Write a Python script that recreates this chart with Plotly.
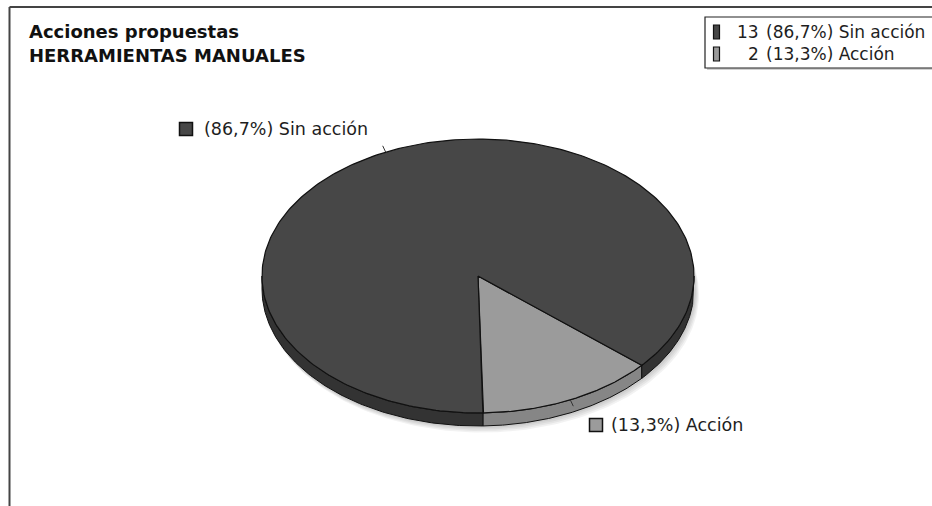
import numpy as np
import plotly.graph_objects as go

# Chart data
title_lines = ["Acciones propuestas", "HERRAMIENTAS MANUALES"]
categories = ["Acción", "Sin acción"]
counts = [2, 13]
slice_colors = ["#9b9b9b", "#474747"]
rim_colors = ["#868686", "#333333"]

# Pie geometry (pixel units on hidden axes)
CX, CY = 478, 276
RX, RY = 216, 137
DEPTH = 13
START_DEG = -88.7  # first slice starts just right of straight down, goes counter-clockwise

FONT = "DejaVu Sans"
total = sum(counts)
pcts = [c / total * 100 for c in counts]


def fmt_pct(p):
    return f"{p:.1f}".replace(".", ",") + "%"


def ell(t_deg, dy=0.0, dx=0.0, rx=RX, ry=RY):
    t = np.radians(t_deg)
    return CX + dx + rx * np.cos(t), CY + dy - ry * np.sin(t)


fig = go.Figure()

# soft drop shadow under the disc
for k, a in enumerate([0.05, 0.05, 0.05, 0.05]):
    tt = np.linspace(0, 360, 240)
    sx, sy = ell(tt, dy=DEPTH + 1 + k * 1.5, dx=1 + k, rx=RX + 1, ry=RY + 1)
    fig.add_trace(go.Scatter(x=sx, y=sy, mode="lines", fill="toself",
                             fillcolor=f"rgba(0,0,0,{a})", line=dict(width=0),
                             hoverinfo="skip", showlegend=False))

# slice angle ranges
ranges = []
a0 = START_DEG
for c in counts:
    a1 = a0 + 360 * c / total
    ranges.append((a0, a1))
    a0 = a1

# visible side wall (front half of the disc)
front = [(-180, 0), (180, 360)]
for (a, b), rc in zip(ranges, rim_colors):
    for f0, f1 in front:
        lo, hi = max(a, f0), min(b, f1)
        if hi <= lo:
            continue
        tt = np.linspace(lo, hi, 120)
        tx, ty = ell(tt)
        bx, by = ell(tt[::-1], dy=DEPTH)
        fig.add_trace(go.Scatter(x=np.r_[tx, bx, tx[:1]], y=np.r_[ty, by, ty[:1]],
                                 mode="lines", fill="toself", fillcolor=rc,
                                 line=dict(color="#111111", width=1),
                                 hoverinfo="skip", showlegend=False))

# top faces
for (a, b), sc in zip(ranges, slice_colors):
    tt = np.linspace(a, b, 300)
    ex, ey = ell(tt)
    fig.add_trace(go.Scatter(x=np.r_[CX, ex, CX], y=np.r_[CY, ey, CY],
                             mode="lines", fill="toself", fillcolor=sc,
                             line=dict(color="#111111", width=1.2),
                             hoverinfo="skip", showlegend=False))

# leader ticks at each slice's mid angle
for (a, b) in ranges:
    m = (a + b) / 2
    x0, y0 = ell(m)
    x1, y1 = ell(m, rx=RX + 7, ry=RY + 7)
    fig.add_trace(go.Scatter(x=[x0, x1], y=[y0, y1], mode="lines",
                             line=dict(color="#333333", width=1),
                             hoverinfo="skip", showlegend=False))

# slice labels with colour swatches
label_pos = {"Sin acción": (186, 129, 202), "Acción": (596, 425, 609)}
for cat, p, sc in zip(categories, pcts, slice_colors):
    mx, my, tx = label_pos[cat]
    fig.add_trace(go.Scatter(x=[mx], y=[my], mode="markers",
                             marker=dict(symbol="square", size=13, color=sc,
                                         line=dict(color="#111111", width=1.5)),
                             hoverinfo="skip", showlegend=False))
    fig.add_annotation(x=tx, y=my, xref="x", yref="y", xanchor="left", yanchor="middle",
                       text=f"({fmt_pct(p)}) {cat}", showarrow=False,
                       font=dict(family=FONT, size=17.5, color="#1e1e1e"))

# title
for i, line in enumerate(title_lines):
    fig.add_annotation(x=27, y=31 + 24 * i, xref="x", yref="y", xanchor="left", yanchor="middle",
                       text=f"<b>{line}</b>", showarrow=False,
                       font=dict(family=FONT, size=18, color="#111111"))

shapes = []
# outer frame (top and left edges visible)
shapes.append(dict(type="line", x0=9.5, y0=7, x1=940, y1=7, xref="x", yref="y",
                   line=dict(color="#444444", width=2)))
shapes.append(dict(type="line", x0=9.5, y0=7, x1=9.5, y1=520, xref="x", yref="y",
                   line=dict(color="#444444", width=2)))

# legend box
shapes.append(dict(type="rect", x0=707, y0=19, x1=945, y1=70, xref="x", yref="y",
                   line=dict(width=0), fillcolor="rgba(0,0,0,0.18)", layer="above"))
shapes.append(dict(type="rect", x0=705, y0=17, x1=945, y1=68, xref="x", yref="y",
                   line=dict(color="#222222", width=1.2), fillcolor="white", layer="above"))
legend_rows = [(1, 32), (0, 54)]  # (slice index, row centre)
for idx, yc in legend_rows:
    shapes.append(dict(type="rect", x0=713.5, y0=yc - 7, x1=719.5, y1=yc + 7,
                       xref="x", yref="y", fillcolor=slice_colors[idx],
                       line=dict(color="#111111", width=1.2), layer="above"))
    fig.add_annotation(x=761, y=yc, xref="x", yref="y", xanchor="right", yanchor="middle",
                       text=str(counts[idx]), showarrow=False,
                       font=dict(family=FONT, size=17, color="#1e1e1e"))
    fig.add_annotation(x=764, y=yc, xref="x", yref="y", xanchor="left", yanchor="middle",
                       text=f"({fmt_pct(pcts[idx])}) {categories[idx]}", showarrow=False,
                       font=dict(family=FONT, size=17, color="#1e1e1e"))

fig.update_layout(
    width=932, height=506, autosize=False,
    margin=dict(l=0, r=0, t=0, b=0),
    paper_bgcolor="white", plot_bgcolor="white",
    xaxis=dict(range=[0, 932], visible=False, fixedrange=True),
    yaxis=dict(range=[506, 0], visible=False, fixedrange=True),
    shapes=shapes,
    showlegend=False,
)

fig.write_html("out.html")
